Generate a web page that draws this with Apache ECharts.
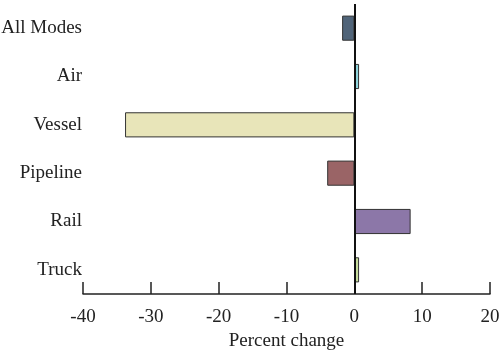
<!DOCTYPE html>
<html>
<head>
<meta charset="utf-8">
<script src="https://cdn.jsdelivr.net/npm/echarts@6/dist/echarts.min.js"></script>
<style>
  html, body { margin: 0; padding: 0; background: #fff; }
  #chart { width: 500px; height: 354px; }
</style>
</head>
<body>
<div id="chart"></div>
<script>
// modes, top to bottom
const modes = ["All Modes", "Air", "Vessel", "Pipeline", "Rail", "Truck"];
// percent change
const pctChange = [-1.8, 0.7, -33.8, -4.0, 8.3, 0.7];
const barColors = ["#506479", "#8fd4dc", "#e8e5b9", "#9a6466", "#8c77a8", "#c6dc9c"];
const xTicks = [-40, -30, -20, -10, 0, 10, 20];

const font = "Liberation Serif";
let chart = echarts.init(document.getElementById("chart"));
let option = {
  animation: false,
  grid: { left: 83, right: 10, top: 4, bottom: 60, outerBoundsMode: "none", containLabel: false },
  xAxis: {
    type: "value",
    min: xTicks[0],
    max: xTicks[xTicks.length - 1],
    interval: 10,
    name: "Percent change",
    nameLocation: "middle",
    nameGap: 38,
    nameTextStyle: { fontFamily: font, fontSize: 19, color: "#222" },
    axisLine: { show: true, onZero: false, lineStyle: { color: "#222", width: 1.5 } },
    axisTick: { show: true, inside: true, length: 12, lineStyle: { color: "#222", width: 1.5 } },
    axisLabel: { fontFamily: font, fontSize: 19, color: "#222", margin: 14 },
    splitLine: { show: false }
  },
  yAxis: {
    type: "category",
    data: modes,
    inverse: true,
    axisLine: { show: false },
    axisTick: { show: false },
    axisLabel: { fontFamily: font, fontSize: 19, color: "#222", margin: 1 }
  },
  series: [
    {
      type: "bar",
      barWidth: "52%",
      data: pctChange.map((v, i) => ({
        value: v,
        itemStyle: { color: barColors[i], borderColor: "#333", borderWidth: 1 }
      })),
      markLine: {
        silent: true,
        symbol: "none",
        label: { show: false },
        lineStyle: { color: "#111", width: 2, type: "solid" },
        data: [{ xAxis: 0 }]
      }
    }
  ]
};
chart.setOption(option);
</script>
</body>
</html>
